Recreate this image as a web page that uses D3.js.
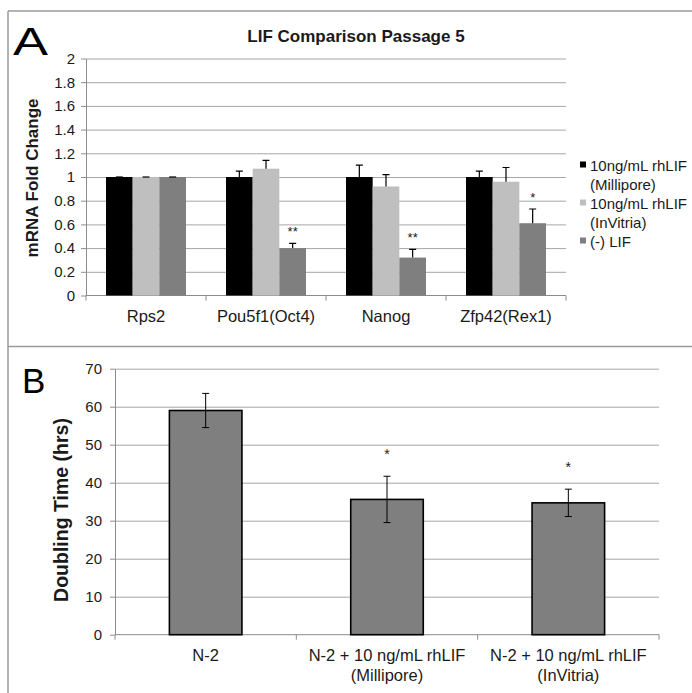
<!DOCTYPE html>
<html lang="en">
<head>
    <meta charset="UTF-8">
    <title>LIF Comparison Passage 5</title>
    <script src="https://d3js.org/d3.v7.min.js"></script>
    <style>
        body { margin: 0; background: #fff; }
        svg { display: block; font-family: "Liberation Sans", Arial, sans-serif; }
        .grid line { stroke: #a6a6a6; stroke-width: 1; }
        .grid .domain { display: none; }
        .yaxis .domain, .yaxis line { stroke: #8c8c8c; }
        .yaxis text { fill: #1a1a1a; font-size: 15px; }
    </style>
</head>
<body>
    <svg width="692" height="693"></svg>
    <script>
        // Panel A: mRNA fold change
        const genes = ["Rps2", "Pou5f1(Oct4)", "Nanog", "Zfp42(Rex1)"];
        const seriesA = ["10ng/mL rhLIF|(Millipore)", "10ng/mL rhLIF|(InVitria)", "(-) LIF"];
        const millipore = [1.0, 1.0, 1.0, 1.0];
        const milliporeErr = [0.0, 0.05, 0.10, 0.05];
        const invitria = [1.0, 1.07, 0.92, 0.96];
        const invitriaErr = [0.0, 0.07, 0.10, 0.12];
        const noLif = [1.0, 0.40, 0.32, 0.61];
        const noLifErr = [0.0, 0.04, 0.07, 0.12];
        const noLifSig = ["", "**", "**", "*"];
        const yTicksA = [0, 0.2, 0.4, 0.6, 0.8, 1, 1.2, 1.4, 1.6, 1.8, 2];

        // Panel B: doubling time
        const conditions = ["N-2", "N-2 + 10 ng/mL rhLIF|(Millipore)", "N-2 + 10 ng/mL rhLIF|(InVitria)"];
        const doubling = [59, 35.6, 34.7];
        const doublingErr = [4.5, 6.1, 3.6];
        const doublingSig = ["", "*", "*"];
        const yTicksB = [0, 10, 20, 30, 40, 50, 60, 70];

        const colorsA = ["#000000", "#bfbfbf", "#7f7f7f"];
        const svg = d3.select("svg");
        const ink = "#1a1a1a";

        // frame lines
        svg.append("line").attr("x1", 8).attr("x2", 692).attr("y1", 11).attr("y2", 11)
            .attr("stroke", "#9a9a9a").attr("stroke-width", 1.5);
        svg.append("line").attr("x1", 8).attr("x2", 692).attr("y1", 346.5).attr("y2", 346.5)
            .attr("stroke", "#9a9a9a").attr("stroke-width", 1.5);
        svg.append("line").attr("x1", 8).attr("x2", 8).attr("y1", 11).attr("y2", 693)
            .attr("stroke", "#9a9a9a").attr("stroke-width", 1.5);

        // ---------- Panel A ----------
        const xA = d3.scaleBand().domain(genes).range([86, 566]);
        const subA = d3.scaleBand().domain(d3.range(3)).range([0, xA.bandwidth()]).paddingOuter(0.75);
        const yA = d3.scaleLinear().domain([0, 2]).range([295.5, 58.5]);

        svg.append("g").attr("class", "grid").attr("transform", "translate(86,0)")
            .call(d3.axisLeft(yA).tickValues(yTicksA.slice(1)).tickSize(-480).tickFormat(""));
        svg.append("g").attr("class", "yaxis").attr("transform", "translate(86,0)")
            .call(d3.axisLeft(yA).tickValues(yTicksA).tickSize(5).tickSizeOuter(0).tickPadding(6)
                .tickFormat(d3.format("~g")));
        svg.append("line").attr("x1", 86).attr("x2", 566).attr("y1", yA(0)).attr("y2", yA(0))
            .attr("stroke", "#8c8c8c");
        svg.append("g").selectAll("line").data(genes.map(g => xA(g)).concat([xA.range()[1]]))
            .join("line").attr("x1", d => d).attr("x2", d => d)
            .attr("y1", yA(0)).attr("y2", yA(0) + 5).attr("stroke", "#8c8c8c");

        const valsA = [millipore, invitria, noLif];
        const errsA = [milliporeErr, invitriaErr, noLifErr];
        const barsA = [];
        valsA.forEach((vals, s) => vals.forEach((v, i) =>
            barsA.push({ gene: genes[i], s: s, v: v, e: errsA[s][i], sig: s === 2 ? noLifSig[i] : "" })));

        const gA = svg.append("g");
        gA.selectAll("rect").data(barsA).join("rect")
            .attr("x", d => xA(d.gene) + subA(d.s))
            .attr("width", subA.bandwidth())
            .attr("y", d => yA(d.v))
            .attr("height", d => yA(0) - yA(d.v))
            .attr("fill", d => colorsA[d.s]);
        const cx = d => xA(d.gene) + subA(d.s) + subA.bandwidth() / 2;
        gA.selectAll(".eb").data(barsA).join("path").attr("class", "eb")
            .attr("d", d => `M${cx(d)},${yA(d.v)}V${yA(d.v + d.e)}M${cx(d) - 3.5},${yA(d.v + d.e)}H${cx(d) + 3.5}`)
            .attr("stroke", "#000").attr("stroke-width", 1.2).attr("fill", "none");
        gA.selectAll(".sig").data(barsA.filter(d => d.sig)).join("text").attr("class", "sig")
            .attr("x", cx).attr("y", d => yA(d.v + d.e) - 7)
            .attr("text-anchor", "middle").attr("font-size", 13).attr("fill", ink).text(d => d.sig);

        svg.append("g").selectAll("text").data(genes).join("text")
            .attr("x", d => xA(d) + xA.bandwidth() / 2).attr("y", 322)
            .attr("text-anchor", "middle").attr("font-size", 16.5).attr("fill", ink).text(d => d);

        svg.append("text").attr("x", 356).attr("y", 41.5).attr("text-anchor", "middle")
            .attr("font-size", 17).attr("font-weight", "bold").attr("fill", ink)
            .text("LIF Comparison Passage 5");
        svg.append("text").attr("transform", "translate(38,178) rotate(-90)")
            .attr("text-anchor", "middle").attr("font-size", 17).attr("font-weight", "bold")
            .attr("fill", ink).text("mRNA Fold Change");
        svg.append("text").attr("x", 13).attr("y", 55).attr("font-size", 38)
            .attr("textLength", 35).attr("lengthAdjust", "spacingAndGlyphs").attr("fill", "#000").text("A");

        // legend
        const leg = svg.append("g").attr("transform", "translate(580,0)");
        seriesA.forEach((name, s) => {
            const y0 = 170.5 + 38 * s;
            leg.append("rect").attr("x", 0).attr("y", y0 - 9).attr("width", 6).attr("height", 6)
                .attr("fill", colorsA[s]);
            name.split("|").forEach((ln, j) => leg.append("text").attr("x", 10).attr("y", y0 + 19 * j)
                .attr("font-size", 15).attr("fill", ink).text(ln));
        });

        // ---------- Panel B ----------
        const xB = d3.scaleBand().domain(conditions).range([115, 659]);
        const yB = d3.scaleLinear().domain([0, 70]).range([634.7, 368.7]);

        svg.append("g").attr("class", "grid").attr("transform", "translate(115,0)")
            .call(d3.axisLeft(yB).tickValues(yTicksB.slice(1)).tickSize(-544).tickFormat(""));
        svg.append("g").attr("class", "yaxis").attr("transform", "translate(115,0)")
            .call(d3.axisLeft(yB).tickValues(yTicksB).tickSize(5).tickSizeOuter(0).tickPadding(8));
        svg.append("line").attr("x1", 115).attr("x2", 659).attr("y1", yB(0)).attr("y2", yB(0))
            .attr("stroke", "#8c8c8c");
        svg.append("g").selectAll("line").data(conditions.map(c => xB(c)).concat([xB.range()[1]]))
            .join("line").attr("x1", d => d).attr("x2", d => d)
            .attr("y1", yB(0)).attr("y2", yB(0) + 5).attr("stroke", "#8c8c8c");

        const barsB = conditions.map((c, i) => ({ c: c, v: doubling[i], e: doublingErr[i], sig: doublingSig[i] }));
        const bw = xB.bandwidth() * 0.4;
        const cB = d => xB(d.c) + xB.bandwidth() / 2;
        const gB = svg.append("g");
        gB.selectAll("rect").data(barsB).join("rect")
            .attr("x", d => cB(d) - bw / 2).attr("width", bw)
            .attr("y", d => yB(d.v)).attr("height", d => yB(0) - yB(d.v))
            .attr("fill", "#7f7f7f").attr("stroke", "#000").attr("stroke-width", 1.6);
        gB.selectAll(".eb").data(barsB).join("path").attr("class", "eb")
            .attr("d", d => `M${cB(d)},${yB(d.v - d.e)}V${yB(d.v + d.e)}` +
                `M${cB(d) - 3.5},${yB(d.v + d.e)}H${cB(d) + 3.5}M${cB(d) - 3.5},${yB(d.v - d.e)}H${cB(d) + 3.5}`)
            .attr("stroke", "#000").attr("stroke-width", 1).attr("fill", "none");
        gB.selectAll(".sig").data(barsB.filter(d => d.sig)).join("text").attr("class", "sig")
            .attr("x", cB).attr("y", d => yB(d.v + d.e) - 17)
            .attr("text-anchor", "middle").attr("font-size", 14).attr("fill", ink).text(d => d.sig);

        const xl = svg.append("g");
        conditions.forEach(c => c.split("|").forEach((ln, j) =>
            xl.append("text").attr("x", xB(c) + xB.bandwidth() / 2).attr("y", 661 + 20 * j)
                .attr("text-anchor", "middle").attr("font-size", 16.5).attr("fill", ink).text(ln)));

        svg.append("text").attr("transform", "translate(68,510) rotate(-90)")
            .attr("text-anchor", "middle").attr("font-size", 19.5).attr("font-weight", "bold")
            .attr("fill", ink).text("Doubling Time (hrs)");
        svg.append("text").attr("x", 22).attr("y", 393).attr("font-size", 35)
            .attr("fill", "#000").text("B");
    </script>
</body>
</html>
